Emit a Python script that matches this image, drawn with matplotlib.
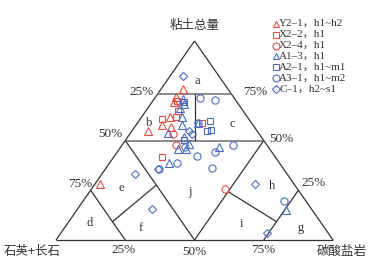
import matplotlib
matplotlib.use("Agg")
import matplotlib.pyplot as plt
import numpy as np

# ---------------- data (clay %, carbonate %) ----------------
series_names = ["Y2\u20131，h1~h2", "X2\u20132，h1", "X2\u20134，h1", "A1\u20133，h1",
                "A2\u20131，h1~m1", "A3\u20131，h1~m2", "C\u20131，h2~s1"]

y21_clay = [75.7, 71.7, 69.2, 61.7, 57.6, 56.9, 54.9, 28.1]
y21_carb = [7.9, 7.5, 8.0, 10.4, 9.5, 13.1, 5.7, 1.8]

x22_clay = [69.8, 64.8, 61.7, 60.8, 58.6, 41.9]
x22_carb = [8.8, 11.5, 12.5, 8.0, 23.5, 17.4]

x24_clay = [53.1, 47.7, 25.6]
x24_carb = [15.7, 19.4, 48.2]

a13_clay = [70.7, 68.3, 66.2, 62.0, 57.8, 53.6, 51.8, 45.6, 45.6, 48.2, 46.9, 38.5, 15.1, 58.6]
a13_carb = [10.6, 12.2, 11.8, 14.5, 16.5, 13.5, 20.3, 21.1, 24.0, 24.0, 35.5, 21.6, 75.5, 22.1]

a21_clay = [69.5, 60.0, 54.8, 55.3, 50.3]
a21_carb = [11.6, 25.5, 27.0, 28.4, 21.2]

a31_clay = [71.5, 70.4, 58.9, 46.9, 47.7, 44.1, 42.2, 38.5, 36.3, 35.7, 19.4]
a31_carb = [16.2, 22.2, 21.9, 23.1, 39.9, 35.5, 29.7, 24.6, 38.2, 19.4, 72.6]

c1_clay = [82.4, 54.8, 53.3, 35.7, 33.2, 28.0, 15.7, 3.7]
c1_carb = [4.8, 20.7, 22.4, 19.1, 11.9, 58.0, 26.9, 74.3]

tick_labels = ["25%", "50%", "75%"]
region_letters = ["a", "b", "c", "d", "e", "f", "g", "h", "i", "j"]

RED = "#ee4a3f"
BLUE = "#4a6cc8"
TXT = "#333333"

plt.rcParams['font.family'] = ['Liberation Serif', 'Noto Sans CJK SC', 'DejaVu Sans']

W, H = 376, 262
fig = plt.figure(figsize=(W / 100, H / 100), dpi=100)
ax = fig.add_axes([56 / W, (H - 240) / H, 277 / W, 199 / H])
ax.set_xlim(0, 1)
ax.set_ylim(0, 1)
ax.axis("off")


def tern(clay, carb):
    c = np.asarray(clay, float) / 100.0
    k = np.asarray(carb, float) / 100.0
    return k + c / 2.0, c


def seg(p, q, **kw):
    x0, y0 = tern(*p)
    x1, y1 = tern(*q)
    ax.plot([x0, x1], [y0, y1], clip_on=False, solid_capstyle="butt", **kw)


dark = dict(color="#333333", lw=0.9)
gray = dict(color="#8a8a8a", lw=1.4)

# outline
seg((0, 0), (0, 100), **dark)
seg((0, 100), (100, 0), **dark)
seg((100, 0), (0, 0), **dark)
# horizontal clay lines
CU = 73.5
seg((CU, 0), (CU, 100 - CU), **gray)
seg((50, 0), (50, 50), **gray)
# vertical split b/c
seg((50, 25), (CU, 50 - CU / 2), **dark)
# inner triangle
seg((50, 0), (0, 50), **dark)
seg((50, 50), (0, 50), **dark)
# 75% lines
seg((25, 0), (0, 25), **dark)
seg((25, 75), (0, 75), **dark)
# e/f and h/i lines
seg((9.2, 15.8), (27.6, 22.4), **dark)
seg((24.3, 50), (9.2, 75), **dark)

# points
ms = 5.2
mew = 0.8
groups = [
    (y21_clay, y21_carb, "^", RED),
    (x22_clay, x22_carb, "s", RED),
    (x24_clay, x24_carb, "o", RED),
    (a13_clay, a13_carb, "^", BLUE),
    (a21_clay, a21_carb, "s", BLUE),
    (a31_clay, a31_carb, "o", BLUE),
    (c1_clay, c1_carb, "D", BLUE),
]
for cl, cb, m, col in groups:
    x, y = tern(cl, cb)
    s = ms * (0.75 if m == "D" else (0.9 if m == "s" else 1.0))
    ax.plot(x, y, ls="none", marker=m, ms=s, mfc="none", mec=col, mew=mew, clip_on=False)

# tick labels
fs_t = 9.5
lab_pos_left = [(0.309, 0.742), (0.195, 0.533), (0.0866, 0.281)]
lab_pos_right = [(0.929, 0.285), (0.815, 0.506), (0.718, 0.744)]
lab_pos_bottom = [(0.245, -0.050), (0.499, -0.059), (0.748, -0.050)]
for t, (x, y) in zip(tick_labels, lab_pos_left):
    ax.text(x, y, t, fontsize=fs_t, color=TXT, ha="center", va="center")
for t, (x, y) in zip(tick_labels, lab_pos_right):
    ax.text(x, y, t, fontsize=fs_t, color=TXT, ha="center", va="center")
for t, (x, y) in zip(tick_labels, lab_pos_bottom):
    ax.text(x, y, t, fontsize=fs_t, color=TXT, ha="center", va="center")

# axis titles
fs_a = 9
ax.text(0.499, 1.080, "粘土总量", fontsize=fs_a, color=TXT, ha="center", va="center",
        family=['Noto Sans CJK SC'])
ax.text(-0.088, -0.059, "石英+长石", fontsize=fs_a, color=TXT, ha="center", va="center",
        family=['Noto Sans CJK SC'])
ax.text(1.031, -0.059, "碳酸盐岩", fontsize=fs_a, color=TXT, ha="center", va="center",
        family=['Noto Sans CJK SC'])

# region letters
letter_pos = [(0.509, 0.8005), (0.335, 0.586), (0.638, 0.581), (0.123, 0.084),
              (0.235, 0.260), (0.307, 0.062), (0.882, 0.059), (0.779, 0.273),
              (0.670, 0.079), (0.484, 0.243)]
for t, (x, y) in zip(region_letters, letter_pos):
    ax.text(x, y, t, fontsize=9, color=TXT, ha="center", va="center")

# legend (manual)
leg_markers = ["^", "s", "o", "^", "s", "o", "D"]
leg_colors = [RED, RED, RED, BLUE, BLUE, BLUE, BLUE]
for i, (nm, m, col) in enumerate(zip(series_names, leg_markers, leg_colors)):
    py = 23.7 + 10.93 * i
    fx, fy = 275.7 / W, 1 - py / H
    s = 5.0 * (0.75 if m == "D" else (0.9 if m == "s" else 1.0))
    fig.lines.append(plt.Line2D([fx], [fy], transform=fig.transFigure, ls="none", marker=m,
                                ms=s, mfc="none", mec=col, mew=0.8))
    fig.text(279 / W, fy, nm, fontsize=8, color=TXT, ha="left", va="center")

fig.savefig("out.png", dpi=100)
